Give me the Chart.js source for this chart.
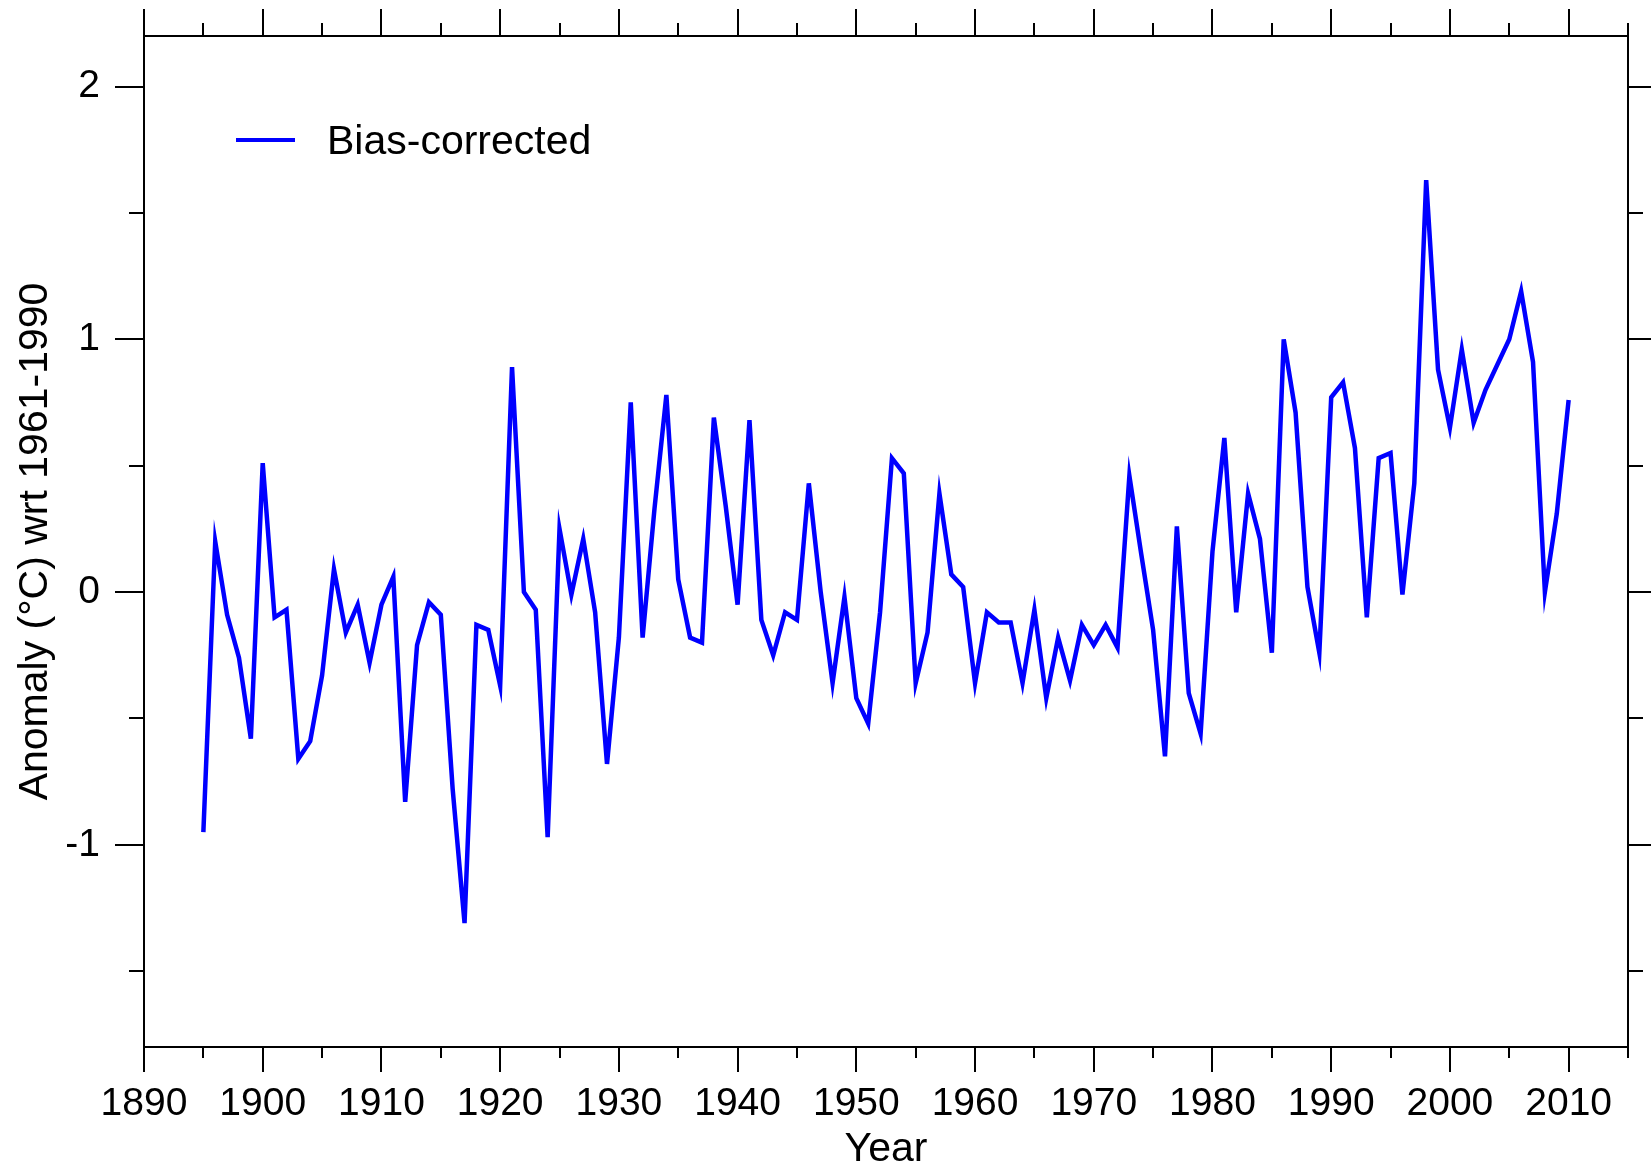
<!DOCTYPE html>
<html>
<head>
<meta charset="utf-8">
<script src="https://cdn.jsdelivr.net/npm/chart.js@4.4.0/dist/chart.umd.min.js"></script>
<style>
  html, body { margin: 0; padding: 0; background: #ffffff; }
  canvas { display: block; }
</style>
</head>
<body>
<canvas id="c" width="1651" height="1168"></canvas>
<script>
// ---------------- data ----------------
const years = [
  1895,1896,1897,1898,1899,1900,1901,1902,1903,1904,1905,1906,1907,1908,1909,
  1910,1911,1912,1913,1914,1915,1916,1917,1918,1919,1920,1921,1922,1923,1924,
  1925,1926,1927,1928,1929,1930,1931,1932,1933,1934,1935,1936,1937,1938,1939,
  1940,1941,1942,1943,1944,1945,1946,1947,1948,1949,1950,1951,1952,1953,1954,
  1955,1956,1957,1958,1959,1960,1961,1962,1963,1964,1965,1966,1967,1968,1969,
  1970,1971,1972,1973,1974,1975,1976,1977,1978,1979,1980,1981,1982,1983,1984,
  1985,1986,1987,1988,1989,1990,1991,1992,1993,1994,1995,1996,1997,1998,1999,
  2000,2001,2002,2003,2004,2005,2006,2007,2008,2009,2010
];
const biasCorrected = [
  -0.95, 0.20,-0.09,-0.26,-0.58, 0.51,-0.10,-0.07,-0.66,-0.59,-0.33, 0.09,-0.16,-0.05,-0.28,
  -0.05, 0.06,-0.83,-0.21,-0.04,-0.09,-0.78,-1.31,-0.13,-0.15,-0.37, 0.89, 0.00,-0.07,-0.97,
   0.25,-0.01, 0.21,-0.08,-0.68,-0.18, 0.75,-0.18, 0.33, 0.78, 0.05,-0.18,-0.20, 0.69, 0.34,
  -0.05, 0.68,-0.11,-0.25,-0.08,-0.11, 0.43, 0.00,-0.36,-0.02,-0.42,-0.52,-0.08, 0.53, 0.47,
  -0.36,-0.16, 0.39, 0.07, 0.02,-0.36,-0.08,-0.12,-0.12,-0.36,-0.07,-0.42,-0.18,-0.35,-0.13,
  -0.21,-0.13,-0.22, 0.46, 0.15,-0.15,-0.65, 0.26,-0.40,-0.56, 0.16, 0.61,-0.08, 0.39, 0.21,
  -0.24, 1.00, 0.71, 0.02,-0.24, 0.77, 0.83, 0.57,-0.10, 0.53, 0.55,-0.01, 0.43, 1.63, 0.88,
   0.65, 0.96, 0.67, 0.80, 0.90, 1.00, 1.19, 0.91, 0.00, 0.31, 0.76
];
const xTickLabels = [1890,1900,1910,1920,1930,1940,1950,1960,1970,1980,1990,2000,2010];
const yTickLabels = [-1,0,1,2];
const seriesName = 'Bias-corrected';
const xTitle = 'Year';
const yTitle = 'Anomaly (°C) wrt 1961-1990';

// ---------------- chart ----------------
const FONT = 'Liberation Sans, Arial, Helvetica, sans-serif';
Chart.defaults.font.family = FONT;
Chart.defaults.color = '#000';

const points = years.map((yr, i) => ({ x: yr, y: biasCorrected[i] }));

const frameTicks = {
  id: 'frameTicks',
  afterDraw(chart) {
    const { ctx, chartArea: a, scales: { x, y } } = chart;
    ctx.save();
    ctx.strokeStyle = '#000';
    ctx.lineWidth = 2;
    ctx.lineCap = 'butt';
    ctx.strokeRect(a.left, a.top, a.right - a.left, a.bottom - a.top);
    ctx.beginPath();
    // x ticks (major every 10, minor every 5), outward on bottom and top
    for (let v = x.min; v <= x.max + 1e-6; v += 5) {
      const px = Math.round(x.getPixelForValue(v));
      const major = Math.abs(v % 10) < 1e-6;
      ctx.moveTo(px, a.bottom); ctx.lineTo(px, a.bottom + (major ? 25 : 11));
      ctx.moveTo(px, a.top); ctx.lineTo(px, a.top - (major ? 27 : 13));
    }
    // y ticks (major every 1, minor every 0.5), outward on left and right
    for (let k = Math.ceil(y.min * 2); k <= Math.floor(y.max * 2); k++) {
      const v = k / 2;
      const py = Math.round(y.getPixelForValue(v));
      const major = (k % 2 === 0);
      ctx.moveTo(a.left, py); ctx.lineTo(a.left - (major ? 29 : 15), py);
      ctx.moveTo(a.right, py); ctx.lineTo(a.right + (major ? 25 : 15), py);
    }
    ctx.stroke();

    // legend
    const ds = chart.data.datasets[0];
    const ly = a.top + 104;
    ctx.strokeStyle = ds.borderColor;
    ctx.lineWidth = 4;
    ctx.beginPath();
    ctx.moveTo(a.left + 92, ly);
    ctx.lineTo(a.left + 151, ly);
    ctx.stroke();
    ctx.fillStyle = '#000';
    ctx.font = '41px ' + FONT;
    ctx.textBaseline = 'middle';
    ctx.textAlign = 'left';
    ctx.fillText(ds.label, a.left + 183, ly + 3);
    ctx.restore();
  }
};

new Chart(document.getElementById('c'), {
  type: 'line',
  data: {
    datasets: [{
      label: seriesName,
      data: points,
      borderColor: '#0000ff',
      backgroundColor: '#0000ff',
      borderWidth: 4.5,
      pointRadius: 0,
      tension: 0,
      fill: false,
      borderJoinStyle: 'miter'
    }]
  },
  options: {
    responsive: false,
    animation: false,
    devicePixelRatio: 1,
    layout: { padding: { top: 36, right: 23, left: 0, bottom: 0 } },
    plugins: { legend: { display: false }, tooltip: { enabled: false } },
    scales: {
      x: {
        type: 'linear',
        min: 1890,
        max: 2015,
        afterBuildTicks: s => { s.ticks = xTickLabels.map(v => ({ value: v })); },
        afterFit: s => { s.height = 121; s.paddingLeft = 0; s.paddingRight = 0; },
        grid: { display: false, drawTicks: false },
        border: { display: false },
        ticks: {
          autoSkip: false, maxRotation: 0, padding: 34, color: '#000',
          font: { size: 39, family: FONT },
          callback: v => String(v)
        },
        title: { display: true, text: xTitle, color: '#000', padding: 0,
                 font: { size: 41, family: FONT, lineHeight: 0.9 } }
      },
      y: {
        type: 'linear',
        min: -1.8,
        max: 2.2,
        afterBuildTicks: s => { s.ticks = yTickLabels.map(v => ({ value: v })); },
        afterFit: s => { s.width = 144; s.paddingTop = 0; s.paddingBottom = 0; },
        grid: { display: false, drawTicks: false },
        border: { display: false },
        ticks: {
          autoSkip: false, padding: 44, color: '#000',
          font: { size: 39, family: FONT },
          callback: v => String(v)
        },
        title: { display: true, text: yTitle, color: '#000', padding: { top: 11, bottom: 0 },
                 font: { size: 41, family: FONT, lineHeight: 1.2 } }
      }
    }
  },
  plugins: [frameTicks]
});
</script>
</body>
</html>
